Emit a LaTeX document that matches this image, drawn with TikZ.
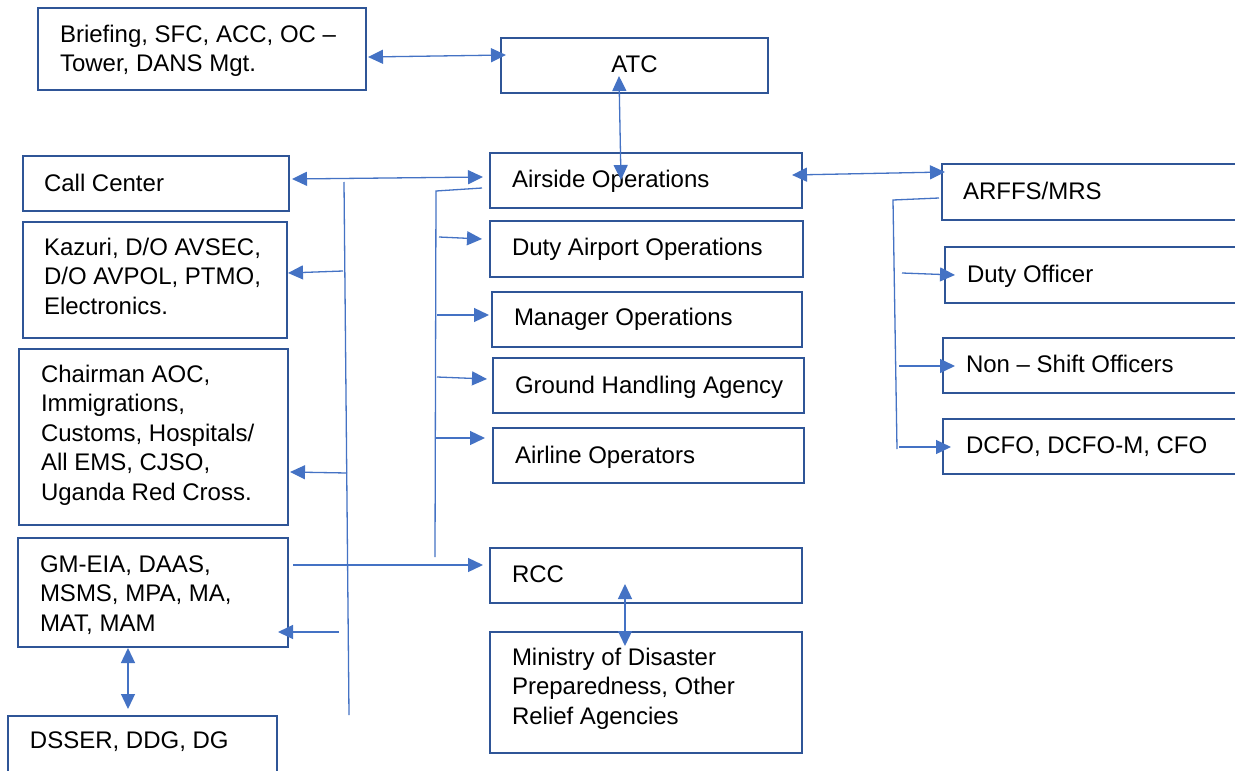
\documentclass[tikz,border=0pt]{standalone}
\usepackage{fontspec}
\setmainfont{Liberation Sans}
\usetikzlibrary{arrows.meta,calc}
\definecolor{boxblue}{HTML}{2F5597}
\definecolor{wireblue}{HTML}{4472C4}
% left-aligned lines whose baseline is the first line's
\newcommand{\stack}[1]{\begin{tabular}[t]{@{}l@{}}#1\end{tabular}}
% rectangle given by its corners: name, x1, y1, x2, y2
\newcommand{\unitbox}[5]{\node[orgbox, minimum width={#4-#2}, minimum height={#5-#3}] (#1) at ({(#2+#4)/2},{(#3+#5)/2}) {};}

\begin{document}
\begin{tikzpicture}[x=1pt,y=-1pt,
  orgbox/.style={draw=boxblue, line width=2.5pt, rectangle, inner sep=0pt, outer sep=0pt},
  boxtext/.style={inner sep=0pt, outer sep=0pt, anchor=base west, font=\fontsize{24}{29.6}\selectfont, text=black},
  wire/.style={draw=wireblue, line width=1.3pt},
  onearrow/.style={wire, -{Triangle[length=15pt,width=14pt]}},
  twoarrow/.style={wire, {Triangle[length=15pt,width=14pt]}-{Triangle[length=15pt,width=14pt]}},
]
\fill[white] (0,0) rectangle (1235,771);
\useasboundingbox (0,0) rectangle (1235,771);

% boxes
\unitbox{brief}{38}{8}{366}{90}
\unitbox{atc}{501}{38}{768}{93}
\unitbox{call}{23}{156}{289}{211}
\unitbox{air}{490}{153}{802}{208}
\unitbox{arffs}{942}{164}{1245}{220}
\unitbox{kaz}{23}{222}{287}{338}
\unitbox{dao}{490}{221}{803}{277}
\unitbox{dof}{945}{247}{1245}{303}
\unitbox{mgr}{492}{292}{802}{347}
\unitbox{chair}{19}{349}{288}{525}
\unitbox{gha}{493}{358}{804}{413}
\unitbox{nso}{943}{338}{1245}{393}
\unitbox{alo}{493}{428}{804}{483}
\unitbox{dcfo}{943}{419}{1245}{474}
\unitbox{gm}{18}{538}{288}{647}
\unitbox{rcc}{490}{548}{802}{603}
\unitbox{ministry}{490}{632}{802}{753}
\unitbox{dsser}{8}{716}{277}{790}

% box texts
\node[boxtext] (brief-t) at (60,42) {\stack{Briefing, SFC, ACC, OC –\\Tower, DANS Mgt.}};
\node[boxtext, anchor=base] (atc-t) at (634.5,72) {ATC};
\node[boxtext] (call-t) at (44,191) {Call Center};
\node[boxtext] (air-t) at (512,187) {Airside Operations};
\node[boxtext] (arffs-t) at (963,199) {ARFFS/MRS};
\node[boxtext] (kaz-t) at (44,255) {\stack{Kazuri, D/O AVSEC,\\D/O AVPOL, PTMO,\\Electronics.}};
\node[boxtext] (dao-t) at (512,255) {Duty Airport Operations};
\node[boxtext] (dof-t) at (967,282) {Duty Officer};
\node[boxtext] (mgr-t) at (514,325) {Manager Operations};
\node[boxtext] (chair-t) at (41,382) {\stack{Chairman AOC,\\Immigrations,\\Customs, Hospitals/\\All EMS, CJSO,\\Uganda Red Cross.}};
\node[boxtext] (gha-t) at (515,393) {Ground Handling Agency};
\node[boxtext] (nso-t) at (966,372) {Non – Shift Officers};
\node[boxtext] (alo-t) at (515,463) {Airline Operators};
\node[boxtext] (dcfo-t) at (966,453) {DCFO, DCFO-M, CFO};
\node[boxtext] (gm-t) at (40,572) {\stack{GM-EIA, DAAS,\\MSMS, MPA, MA,\\MAT, MAM}};
\node[boxtext] (rcc-t) at (512,582) {RCC};
\node[boxtext] (ministry-t) at (512,665) {\stack{Ministry of Disaster\\Preparedness, Other\\Relief Agencies}};
\node[boxtext] (dsser-t) at (30,748) {DSSER, DDG, DG};

% bus lines and their branch points
\coordinate (lbusT) at (344,182);
\coordinate (lbusB) at (349,715);
\coordinate (lbusK) at (343,271);
\coordinate (lbusC) at (347,473);
\coordinate (lbusG) at (339,632);
\coordinate (mbusT) at (436,191);
\coordinate (mbusB) at (435,557);
\coordinate (mbusD) at (439,237);
\coordinate (mbusM) at (437,315);
\coordinate (mbusH) at (437,377);
\coordinate (mbusA) at (436,438);
\coordinate (rbusT) at (893,200);
\coordinate (rbusB) at (897,449);
\coordinate (rbusD) at (902,273);
\coordinate (rbusN) at (899,366);
\coordinate (rbusF) at (899,447);

% top links
\draw[twoarrow] ($(brief.east)+(2,8)$) -- ($(atc.west)+(5,-10.5)$);
\draw[twoarrow] ($(atc.south)+(-15.5,-17)$) -- ($(air.north)+(-25,27)$);
\draw[twoarrow] ($(call.east)+(3,-4.5)$) -- ($(air.west)+(-7,-3.5)$);
\draw[twoarrow] ($(air.east)+(-10,-5.5)$) -- ($(arffs.west)+(3,-20)$);

% left bus
\draw[wire] (lbusT) -- (lbusB);
\draw[onearrow] (lbusK) -- ($(kaz.east)+(1,-7)$);
\draw[onearrow] (lbusC) -- ($(chair.east)+(2,35)$);
\draw[onearrow] (lbusG) -- ($(gm.east)+(-10,39.5)$);
\draw[onearrow] ($(gm.east)+(5,-27.5)$) -- ($(rcc.west)+(-7,-10.5)$);
\draw[twoarrow] ($(gm.south)+(-25,1)$) -- ($(dsser.north)+(-14.5,-7)$);

% middle bus
\draw[wire] ($(air.west)+(-8,7.5)$) -- (mbusT) -- (mbusB);
\draw[onearrow] (mbusD) -- ($(dao.west)+(-8,-10)$);
\draw[onearrow] (mbusM) -- ($(mgr.west)+(-3,-4.5)$);
\draw[onearrow] (mbusH) -- ($(gha.west)+(-6,-6.5)$);
\draw[onearrow] (mbusA) -- ($(alo.west)+(-8,-17.5)$);

% right bus
\draw[wire] ($(arffs.west)+(-3,6)$) -- (rbusT) -- (rbusB);
\draw[onearrow] (rbusD) -- ($(dof.west)+(10,0)$);
\draw[onearrow] (rbusN) -- ($(nso.west)+(12,0.5)$);
\draw[onearrow] (rbusF) -- ($(dcfo.west)+(8,0.5)$);

% RCC link
\draw[twoarrow] ($(rcc.south)+(-21,-19)$) -- ($(ministry.north)+(-21,14)$);
\end{tikzpicture}
\end{document}
